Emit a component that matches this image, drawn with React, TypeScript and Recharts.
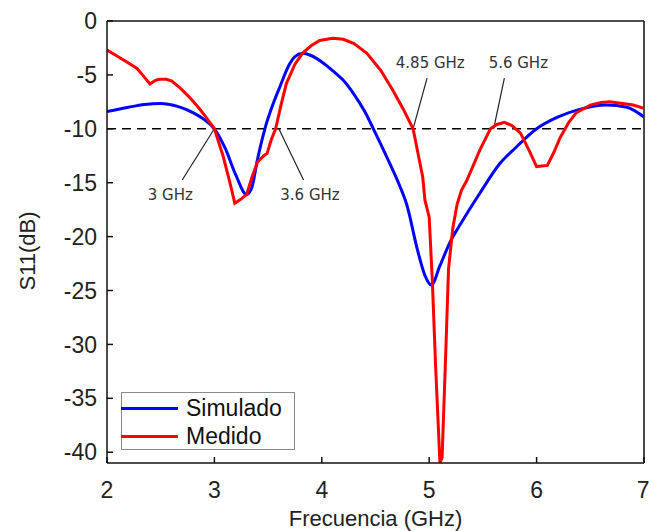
import React from 'react';
import { LineChart, Line, XAxis, YAxis, ReferenceLine, ReferenceDot, Legend } from 'recharts';

// Simulado (blue)
const simFreq = [2.0, 2.2, 2.35, 2.5, 2.65, 2.8, 2.9, 3.0, 3.1, 3.2, 3.3, 3.35, 3.4, 3.47, 3.55, 3.61, 3.7, 3.75, 3.82, 3.9, 4.0, 4.1, 4.2, 4.3, 4.4, 4.48, 4.6, 4.73, 4.79, 4.89, 4.96, 5.02, 5.1, 5.19, 5.3, 5.47, 5.66, 5.8, 6.0, 6.2, 6.4, 6.65, 6.84, 7.0];
const simS11 = [-8.4, -8.0, -7.75, -7.65, -7.9, -8.5, -9.1, -10.0, -11.8, -14.3, -16.1, -15.4, -12.9, -10.0, -7.6, -6.1, -4.0, -3.3, -3.0, -3.2, -3.8, -4.6, -5.5, -6.8, -8.4, -10.0, -12.5, -15.4, -17.0, -21.2, -23.6, -24.5, -22.7, -20.6, -18.7, -16.0, -13.2, -11.8, -10.0, -8.9, -8.2, -7.8, -8.0, -8.9];

// Medido (red)
const medFreq = [2.0, 2.1, 2.2, 2.28, 2.33, 2.4, 2.45, 2.49, 2.55, 2.6, 2.68, 2.77, 2.85, 2.92, 3.0, 3.08, 3.14, 3.19, 3.25, 3.3, 3.35, 3.4, 3.46, 3.49, 3.53, 3.57, 3.62, 3.67, 3.75, 3.82, 3.9, 3.98, 4.1, 4.2, 4.3, 4.42, 4.55, 4.66, 4.76, 4.85, 4.94, 4.96, 5.0, 5.03, 5.06, 5.1, 5.12, 5.15, 5.18, 5.22, 5.26, 5.3, 5.35, 5.47, 5.57, 5.63, 5.7, 5.77, 5.85, 5.93, 6.0, 6.1, 6.16, 6.22, 6.3, 6.37, 6.5, 6.6, 6.68, 6.8, 6.9, 7.0];
const medS11 = [-2.7, -3.3, -3.9, -4.4, -5.0, -5.85, -5.5, -5.4, -5.4, -5.55, -6.2, -7.1, -8.0, -8.9, -10.0, -12.5, -14.8, -16.9, -16.5, -16.1, -14.5, -13.1, -12.5, -12.3, -11.0, -10.0, -7.8, -5.8, -4.0, -3.0, -2.3, -1.8, -1.6, -1.7, -2.1, -3.0, -4.6, -6.4, -8.2, -10.0, -14.5, -16.6, -18.2, -24.3, -32.1, -41.0, -40.5, -32.0, -23.0, -19.2, -17.0, -15.7, -14.8, -12.0, -10.0, -9.6, -9.4, -9.7, -10.4, -12.0, -13.5, -13.4, -12.2, -10.8, -9.4, -8.5, -7.8, -7.55, -7.5, -7.65, -7.8, -8.1];

const xTicks = [2, 3, 4, 5, 6, 7];
const yTicks = [0, -5, -10, -15, -20, -25, -30, -35, -40];

// -10 dB crossings that are labelled on the plot
const markFreqs = [3, 3.6, 4.85, 5.6];
const markLabels = ['3 GHz', '3.6 GHz', '4.85 GHz', '5.6 GHz'];

// where each leader line ends and its text sits (offsets in GHz / dB from the crossing)
const markLayout = [
  { tipDx: -0.3, tipDy: -4.75, textDx: -0.41, textDy: -6.1 },
  { tipDx: 0.23, tipDy: -4.75, textDx: 0.29, textDy: -6.1 },
  { tipDx: 0.13, tipDy: 4.7, textDx: 0.16, textDy: 6.1 },
  { tipDx: 0.1, tipDy: 4.7, textDx: 0.23, textDy: 6.1 },
];

const simData = simFreq.map((f, i) => ({ f, s11: simS11[i] }));
const medData = medFreq.map((f, i) => ({ f, s11: medS11[i] }));

const series = [
  { name: 'Simulado', color: '#0000ff' },
  { name: 'Medido', color: '#ff0000' },
];

const FONT = '"Liberation Sans", Arial, sans-serif';

const renderLegend = () => (
  <div
    style={{
      width: 174,
      height: 58,
      border: '1px solid #8a8a8a',
      boxSizing: 'border-box',
      background: '#fff',
      fontFamily: FONT,
      fontSize: 23,
      color: '#111',
      paddingTop: 1,
    }}
  >
    {series.map((s) => (
      <div key={s.name} style={{ display: 'flex', alignItems: 'center', height: 28 }}>
        <div style={{ width: 57, height: 3, background: s.color, marginLeft: -1, marginRight: 8 }} />
        <span style={{ lineHeight: '28px' }}>{s.name}</span>
      </div>
    ))}
  </div>
);

// rotated y axis title, sitting a little below the plot's middle like the original
const YTitle = (props: any) => {
  const vb = props.viewBox || { x: 0, y: 21, width: 107, height: 442 };
  const cx = vb.x + 27;
  const cy = vb.y + vb.height / 2 + 9;
  return (
    <text
      x={cx}
      y={cy}
      transform={`rotate(-90, ${cx}, ${cy})`}
      textAnchor="middle"
      dominantBaseline="central"
      fill="#222"
      fontSize={22}
      fontFamily={FONT}
    >
      S11(dB)
    </text>
  );
};

export default function App() {
  return (
    <div style={{ position: 'absolute', left: 0, top: 0, background: '#fff' }}>
      <LineChart width={649} height={531} margin={{ top: 21, right: 5, bottom: 0, left: 0 }}>
        <XAxis
          dataKey="f"
          type="number"
          domain={[2, 7]}
          ticks={xTicks}
          allowDataOverflow
          height={68}
          tickSize={-6}
          tickMargin={25}
          stroke="#111"
          strokeWidth={1.5}
          tick={{ fill: '#222', fontSize: 23, fontFamily: FONT }}
          label={{ value: 'Frecuencia (GHz)', position: 'insideBottom', offset: 5, fill: '#222', fontSize: 22, fontFamily: FONT }}
        />
        <YAxis
          type="number"
          domain={[-41, 0]}
          ticks={yTicks}
          allowDataOverflow
          width={107}
          tickSize={-6}
          tickMargin={16}
          stroke="#111"
          strokeWidth={1.5}
          tick={{ fill: '#222', fontSize: 23, fontFamily: FONT }}
          label={<YTitle />}
        />
        <ReferenceLine y={0} stroke="#111" strokeWidth={1.5} />
        <ReferenceLine x={7} stroke="#111" strokeWidth={1.5} />
        <ReferenceLine y={-10} stroke="#000" strokeWidth={1.5} strokeDasharray="9 6" />

        {markFreqs.map((f, i) => {
          const m = markLayout[i];
          return (
            <ReferenceLine
              key={'lead' + i}
              segment={[
                { x: f, y: -10 },
                { x: f + m.tipDx, y: -10 + m.tipDy },
              ]}
              stroke="#222"
              strokeWidth={1.2}
            />
          );
        })}
        {markFreqs.map((f, i) => {
          const m = markLayout[i];
          return (
            <ReferenceDot
              key={'txt' + i}
              x={f + m.textDx}
              y={-10 + m.textDy}
              r={1}
              fill="none"
              stroke="none"
              label={{ value: markLabels[i], position: 'center', fill: '#333', fontSize: 15, fontFamily: '"DejaVu Sans", Verdana, sans-serif' }}
            />
          );
        })}

        <Line
          data={simData}
          dataKey="s11"
          name="Simulado"
          type="monotone"
          stroke={series[0].color}
          strokeWidth={3}
          dot={false}
          isAnimationActive={false}
        />
        <Line
          data={medData}
          dataKey="s11"
          name="Medido"
          type="linear"
          stroke={series[1].color}
          strokeWidth={3}
          dot={false}
          isAnimationActive={false}
        />
        <Legend
          layout="horizontal"
          verticalAlign="middle"
          align="center"
          content={renderLegend}
          wrapperStyle={{ left: 121, top: 392, width: 174, height: 58 }}
        />
      </LineChart>
    </div>
  );
}
